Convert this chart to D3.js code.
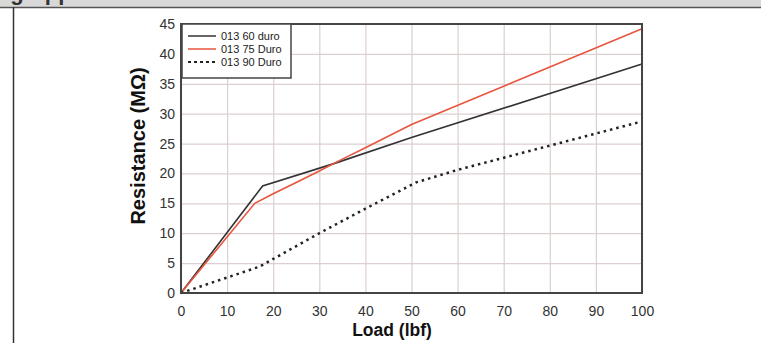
<!DOCTYPE html>
<head>
  <meta charset="utf-8">
  <title>Resistance vs Load</title>
  <script src="https://d3js.org/d3.v7.min.js"></script>
  <style>
    body { margin: 0; background: #fff; }
    text { font-family: "Liberation Sans", Arial, sans-serif; }
  </style>
</head>
<body>
  <div id="chart"></div>
  <script>
    // values
    var seriesNames = ['013 60 duro', '013 75 Duro', '013 90 Duro'];
    var duro60 = [[0, 0], [17.7, 17.9], [33, 21.6], [50, 26], [100, 38.3]];
    var duro75 = [[0, 0], [16, 15], [20, 16.6], [25, 18.5], [30, 20.4], [35, 22.4], [40, 24.3], [50, 28.2], [100, 44.2]];
    var duro90 = [[0, 0], [17, 4.4], [30, 10], [40, 14.1], [51, 18.5], [60, 20.6], [100, 28.7]];
    var xTicks = [0, 10, 20, 30, 40, 50, 60, 70, 80, 90, 100];
    var yTicks = [0, 5, 10, 15, 20, 25, 30, 35, 40, 45];

    var W = 761, H = 343;
    var margin = { top: 24, right: 119, bottom: 50, left: 181 };
    var width = W - margin.left - margin.right;
    var height = H - margin.top - margin.bottom;

    var svg = d3.select('#chart').append('svg')
      .attr('width', W)
      .attr('height', H);

    // header strip (heading cut off at the top, only descenders show)
    svg.append('rect').attr('x', 0).attr('y', 0).attr('width', W).attr('height', 7).attr('fill', '#d8d8d8');
    svg.append('text')
      .attr('x', -62).attr('y', 0)
      .attr('font-size', 22).attr('font-weight', 'bold').attr('fill', '#333')
      .text('Sensing Applications');
    svg.append('line').attr('x1', 0).attr('x2', W).attr('y1', 7.5).attr('y2', 7.5)
      .attr('stroke', '#555').attr('stroke-width', 1.5);
    svg.append('line').attr('x1', 13.5).attr('x2', 13.5).attr('y1', 7).attr('y2', H)
      .attr('stroke', '#333').attr('stroke-width', 1.5);

    var x = d3.scaleLinear().domain([0, 100]).range([0, width]);
    var y = d3.scaleLinear().domain([0, 45]).range([height, 0]);

    var g = svg.append('g')
      .attr('transform', 'translate(' + margin.left + ',' + margin.top + ')');

    // gridlines
    g.append('g')
      .attr('transform', 'translate(0,' + height + ')')
      .call(d3.axisBottom(x).tickValues(xTicks).tickSize(-height).tickFormat(''))
      .call(function (a) { a.select('.domain').remove(); })
      .selectAll('line').attr('stroke', '#dccfcf').attr('stroke-width', 1.2);
    g.append('g')
      .call(d3.axisLeft(y).tickValues(yTicks).tickSize(-width).tickFormat(''))
      .call(function (a) { a.select('.domain').remove(); })
      .selectAll('line').attr('stroke', '#dccfcf').attr('stroke-width', 1.2);

    // tick labels
    var xAxis = g.append('g')
      .attr('transform', 'translate(0,' + height + ')')
      .call(d3.axisBottom(x).tickValues(xTicks).tickSize(0).tickPadding(13));
    var yAxis = g.append('g')
      .call(d3.axisLeft(y).tickValues(yTicks).tickSize(0).tickPadding(6));
    [xAxis, yAxis].forEach(function (a) {
      a.select('.domain').remove();
      a.selectAll('text')
        .attr('font-size', 14)
        .attr('fill', '#333')
        .style('font-family', '"Liberation Sans", Arial, sans-serif');
    });

    // lines
    var line = d3.line()
      .x(function (d) { return x(d[0]); })
      .y(function (d) { return y(d[1]); });

    var styles = [
      { data: duro60, color: '#333333', dash: null, w: 1.6 },
      { data: duro75, color: '#e8553e', dash: null, w: 1.6 },
      { data: duro90, color: '#222222', dash: '2.5,4', w: 2.5 }
    ];
    styles.forEach(function (s) {
      g.append('path')
        .datum(s.data)
        .attr('fill', 'none')
        .attr('stroke', s.color)
        .attr('stroke-width', s.w)
        .attr('stroke-dasharray', s.dash)
        .attr('d', line);
    });

    // plot border
    g.append('rect')
      .attr('x', 0).attr('y', 0).attr('width', width).attr('height', height)
      .attr('fill', 'none').attr('stroke', '#444').attr('stroke-width', 2);

    // legend
    var legend = g.append('g').attr('transform', 'translate(1,0)');
    legend.append('rect')
      .attr('x', 0).attr('y', 0).attr('width', 109).attr('height', 54)
      .attr('fill', '#fff').attr('stroke', '#444').attr('stroke-width', 1.5);
    seriesNames.forEach(function (name, i) {
      var s = styles[i];
      var ly = 12 + i * 13;
      legend.append('line')
        .attr('x1', 6).attr('x2', 34).attr('y1', ly).attr('y2', ly)
        .attr('stroke', s.color)
        .attr('stroke-width', i === 2 ? 2 : 1.5)
        .attr('stroke-dasharray', i === 2 ? '3,3' : null);
      legend.append('text')
        .attr('x', 39).attr('y', ly + 4)
        .attr('font-size', 11).attr('fill', '#222')
        .text(name);
    });

    // axis titles
    svg.append('text')
      .attr('x', 392).attr('y', 336)
      .attr('text-anchor', 'middle')
      .attr('font-size', 17.5).attr('font-weight', 'bold').attr('fill', '#111')
      .text('Load (lbf)');
    svg.append('text')
      .attr('transform', 'translate(145,146) rotate(-90)')
      .attr('text-anchor', 'middle')
      .attr('font-size', 20).attr('font-weight', 'bold').attr('fill', '#111')
      .text('Resistance (MΩ)');
  </script>
</body>
